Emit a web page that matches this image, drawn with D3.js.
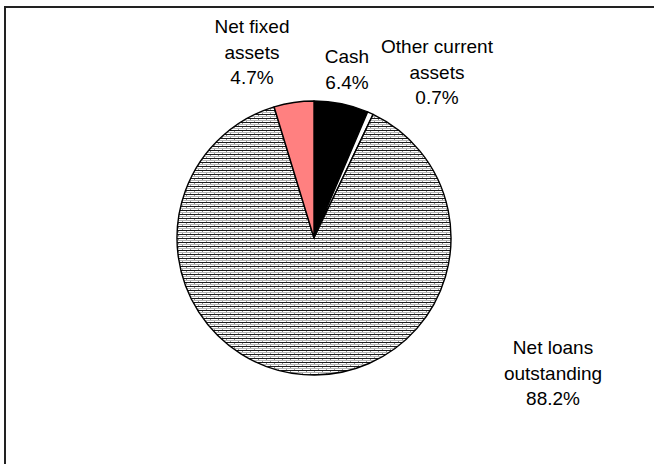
<!DOCTYPE html>
<html>
<head>
<meta charset="utf-8">
<script src="https://cdn.jsdelivr.net/npm/d3@7"></script>
<style>
  html, body { margin: 0; padding: 0; background: #fff; }
  svg { display: block; }
  text { font-family: "Liberation Sans", Arial, sans-serif; fill: #000; }
</style>
</head>
<body>
<svg id="chart" width="654" height="464"></svg>
<script>
// Asset composition (share of total assets, %), clockwise from 12 o'clock
const categories = ["Cash", "Other current assets", "Net loans outstanding", "Net fixed assets"];
const values = [6.4, 0.7, 88.2, 4.7];
const labelLines = [
  ["Cash", "6.4%"],
  ["Other current", "assets", "0.7%"],
  ["Net loans", "outstanding", "88.2%"],
  ["Net fixed", "assets", "4.7%"]
];
const fills = ["#000000", "#ffffff", "url(#hatch)", "#ff8080"];

const svg = d3.select("#chart");

// Fine horizontal hatch used for the loan slice
const defs = svg.append("defs");
const pat = defs.append("pattern")
  .attr("id", "hatch")
  .attr("patternUnits", "userSpaceOnUse")
  .attr("width", 8).attr("height", 4);
pat.append("rect").attr("width", 8).attr("height", 4).attr("fill", "#ffffff");
pat.append("rect").attr("y", 0).attr("width", 8).attr("height", 1).attr("fill", "#1a1a1a");
pat.append("rect").attr("y", 2).attr("width", 8).attr("height", 1).attr("fill", "#b4b4b4");
pat.append("rect").attr("x", 0).attr("y", 1).attr("width", 1).attr("height", 1).attr("fill", "#888");
pat.append("rect").attr("x", 4).attr("y", 3).attr("width", 1).attr("height", 1).attr("fill", "#999");

// Chart frame (open to the right and bottom)
svg.append("rect")
  .attr("x", 5).attr("y", 7)
  .attr("width", 700).attr("height", 500)
  .attr("fill", "none")
  .attr("stroke", "#222")
  .attr("stroke-width", 2);

const cx = 314, cy = 238, r = 137;

const pie = d3.pie().sort(null).value(d => d).startAngle(0).endAngle(2 * Math.PI);
const arcs = pie(values);
const arc = d3.arc().innerRadius(0).outerRadius(r);

const g = svg.append("g").attr("transform", `translate(${cx},${cy})`);
g.selectAll("path.slice")
  .data(arcs)
  .enter().append("path")
  .attr("class", "slice")
  .attr("d", arc)
  .attr("fill", (d, i) => fills[i])
  .attr("stroke", "#000")
  .attr("stroke-width", 1.4)
  .attr("stroke-linejoin", "round");

// Label anchor points (centre x, first baseline y) placed outside each slice
const labelPos = [
  [347, 63],
  [437, 53],
  [553, 354],
  [252, 33]
];
const lineStep = 25.5;

labelLines.forEach((lines, i) => {
  const t = svg.append("text")
    .attr("text-anchor", "middle")
    .attr("font-size", 19);
  lines.forEach((ln, j) => {
    t.append("tspan")
      .attr("x", labelPos[i][0])
      .attr("y", labelPos[i][1] + j * lineStep)
      .text(ln);
  });
});
</script>
</body>
</html>
